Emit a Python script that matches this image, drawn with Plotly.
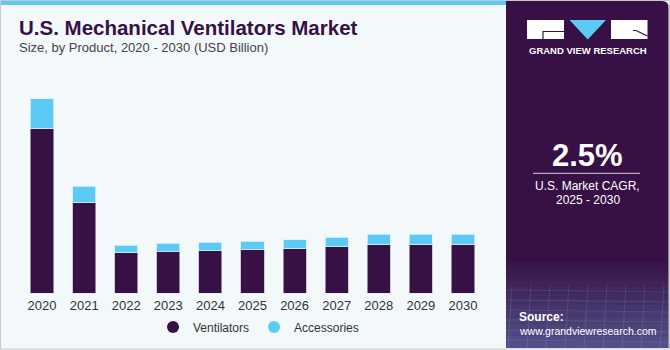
import plotly.graph_objects as go

years = ["2020", "2021", "2022", "2023", "2024", "2025", "2026", "2027", "2028", "2029", "2030"]
ventilators = [3.55, 1.95, 0.87, 0.91, 0.92, 0.94, 0.96, 1.00, 1.05, 1.05, 1.05]
accessories = [0.65, 0.36, 0.17, 0.17, 0.18, 0.18, 0.19, 0.21, 0.22, 0.22, 0.22]
label_year = "2024"
label_text = "$1.1B"

W, H = 670, 350
DARK = "#371146"
BLUE = "#5BCBF5"
BG = "#F3F8FB"
FONT = "Liberation Sans"


def px(x):
    return x / W


def py(y):
    return 1 - y / H


fig = go.Figure()
fig.add_trace(go.Bar(x=years, y=ventilators, name="Ventilators",
                     marker=dict(color=DARK, line=dict(color="rgba(190,180,210,0.7)", width=1)), showlegend=False))
fig.add_trace(go.Bar(x=years, y=accessories, name="Accessories",
                     marker=dict(color=BLUE, line=dict(color="rgba(220,240,255,0.8)", width=1)), showlegend=False))
# legend entries as circles (on hidden helper axes)
fig.add_trace(go.Scatter(x=[None], y=[None], mode="markers", name="Ventilators", xaxis="x2", yaxis="y2",
                         marker=dict(color=DARK, size=12)))
fig.add_trace(go.Scatter(x=[None], y=[None], mode="markers", name="Accessories", xaxis="x2", yaxis="y2",
                         marker=dict(color=BLUE, size=12)))

idx = years.index(label_year)
fig.add_annotation(x=label_year, y=ventilators[idx] + accessories[idx], text=label_text, showarrow=False,
                   yanchor="bottom", yshift=9, font=dict(family=FONT, size=14, color="#333333"))

shapes = []
# outer border
shapes.append(dict(type="rect", xref="paper", yref="paper", x0=px(0.5), x1=px(669.5), y0=py(349), y1=py(0.5),
                   line=dict(color="#C8C8C8", width=1), fillcolor=BG, layer="below"))
# top blue strip
shapes.append(dict(type="rect", xref="paper", yref="paper", x0=px(1), x1=px(506), y0=py(5), y1=py(1),
                   line=dict(width=0), fillcolor=BLUE, layer="below"))
# right panel
shapes.append(dict(type="path", xref="paper", yref="paper",
                   path=f"M {px(506)},{py(1)} L {px(662)},{py(1)} Q {px(668.5)},{py(1)} {px(668.5)},{py(7)} L {px(668.5)},{py(348)} L {px(506)},{py(348)} Z",
                   line=dict(width=0), fillcolor=DARK, layer="below"))
# gradient at bottom of panel
n = 14
for i in range(n):
    y0 = 262 + i * (86 / n)
    y1 = y0 + 86 / n
    a = 0.03 + 0.035 * i
    shapes.append(dict(type="rect", xref="paper", yref="paper", x0=px(506), x1=px(668.5), y0=py(y1), y1=py(y0),
                       line=dict(width=0), fillcolor=f"rgba(110,150,210,{a:.3f})", layer="below"))
# faint grid lines in panel bottom
for k in range(6):
    yy = 290 + k * 10
    shapes.append(dict(type="line", xref="paper", yref="paper", x0=px(506), x1=px(668.5), y0=py(yy), y1=py(yy + 2),
                       line=dict(color="rgba(200,220,255,0.12)", width=1), layer="below"))
for k in range(9):
    xx = 512 + k * 19
    shapes.append(dict(type="line", xref="paper", yref="paper", x0=px(xx), x1=px(xx - 4), y0=py(285), y1=py(348),
                       line=dict(color="rgba(200,220,255,0.12)", width=1), layer="below"))
# logo
shapes.append(dict(type="rect", xref="paper", yref="paper", x0=px(527), x1=px(564), y0=py(39), y1=py(20),
                   line=dict(width=0), fillcolor="white"))
shapes.append(dict(type="path", xref="paper", yref="paper",
                   path=f"M {px(564)},{py(31.5)} L {px(543)},{py(31.5)} L {px(543)},{py(39)}",
                   line=dict(color=DARK, width=1.2)))
shapes.append(dict(type="path", xref="paper", yref="paper",
                   path=f"M {px(569.5)},{py(20)} L {px(606)},{py(20)} L {px(587.7)},{py(39.5)} Z",
                   line=dict(width=0), fillcolor=BLUE))
shapes.append(dict(type="rect", xref="paper", yref="paper", x0=px(611), x1=px(647.5), y0=py(39), y1=py(20),
                   line=dict(width=0), fillcolor="white"))
shapes.append(dict(type="path", xref="paper", yref="paper",
                   path=f"M {px(633)},{py(30.5)} L {px(636)},{py(30.5)} L {px(647.5)},{py(36)}",
                   line=dict(color=DARK, width=1.2)))
# CAGR separator
shapes.append(dict(type="line", xref="paper", yref="paper", x0=px(533), x1=px(640), y0=py(173.3), y1=py(173.3),
                   line=dict(color="rgba(255,255,255,0.8)", width=1)))

annotations = [
    dict(text="<b>U.S. Mechanical Ventilators Market</b>", x=px(17), y=py(27), xanchor="left", yanchor="middle",
         font=dict(family=FONT, size=20.5, color=DARK)),
    dict(text="Size, by Product, 2020 - 2030 (USD Billion)", x=px(17), y=py(48), xanchor="left", yanchor="middle",
         font=dict(family=FONT, size=13, color="#444444")),
    dict(text="<b>GRAND VIEW RESEARCH</b>", x=px(587.5), y=py(51), xanchor="center", yanchor="middle",
         font=dict(family=FONT, size=9.5, color="white")),
    dict(text="<b>2.5%</b>", x=px(587.5), y=py(155), xanchor="center", yanchor="middle",
         font=dict(family=FONT, size=31, color="white")),
    dict(text="U.S. Market CAGR,", x=px(587.5), y=py(186), xanchor="center", yanchor="middle",
         font=dict(family=FONT, size=12, color="white")),
    dict(text="2025 - 2030", x=px(587.5), y=py(200), xanchor="center", yanchor="middle",
         font=dict(family=FONT, size=12, color="white")),
    dict(text="<b>Source:</b>", x=px(517), y=py(316.5), xanchor="left", yanchor="middle",
         font=dict(family=FONT, size=12, color="white")),
    dict(text="www.grandviewresearch.com", x=px(517), y=py(330.5), xanchor="left", yanchor="middle",
         font=dict(family=FONT, size=10.5, color="white")),
]
for a in annotations:
    a.update(xref="paper", yref="paper", showarrow=False)
    fig.add_annotation(**a)

ymax = 4.5
fig.update_layout(
    width=W, height=H, margin=dict(l=0, r=0, t=0, b=0),
    paper_bgcolor="white", plot_bgcolor="rgba(0,0,0,0)",
    barmode="stack", bargap=0.45,
    shapes=shapes,
    xaxis=dict(domain=[px(21), px(484)], type="category", categoryorder="array", categoryarray=years,
               range=[-0.5, len(years) - 0.5], showgrid=False, zeroline=False, showline=False,
               ticks="", ticklabelstandoff=3,
               tickfont=dict(family=FONT, size=13, color="#333333"), fixedrange=True),
    yaxis=dict(domain=[56.7 / H, (H - 84.7) / H], range=[0, ymax], visible=False, fixedrange=True),
    xaxis2=dict(domain=[0, 0.01], anchor="y2", visible=False, range=[0, 1]),
    yaxis2=dict(domain=[0, 0.01], anchor="x2", visible=False, range=[0, 1]),
    legend=dict(orientation="h", x=px(153), y=py(327), xanchor="left", yanchor="middle", traceorder="normal",
                font=dict(family=FONT, size=12, color="#333333"), bgcolor="rgba(0,0,0,0)",
                itemwidth=30, tracegroupgap=0),
    showlegend=True,
)

fig.write_html("out.html")
